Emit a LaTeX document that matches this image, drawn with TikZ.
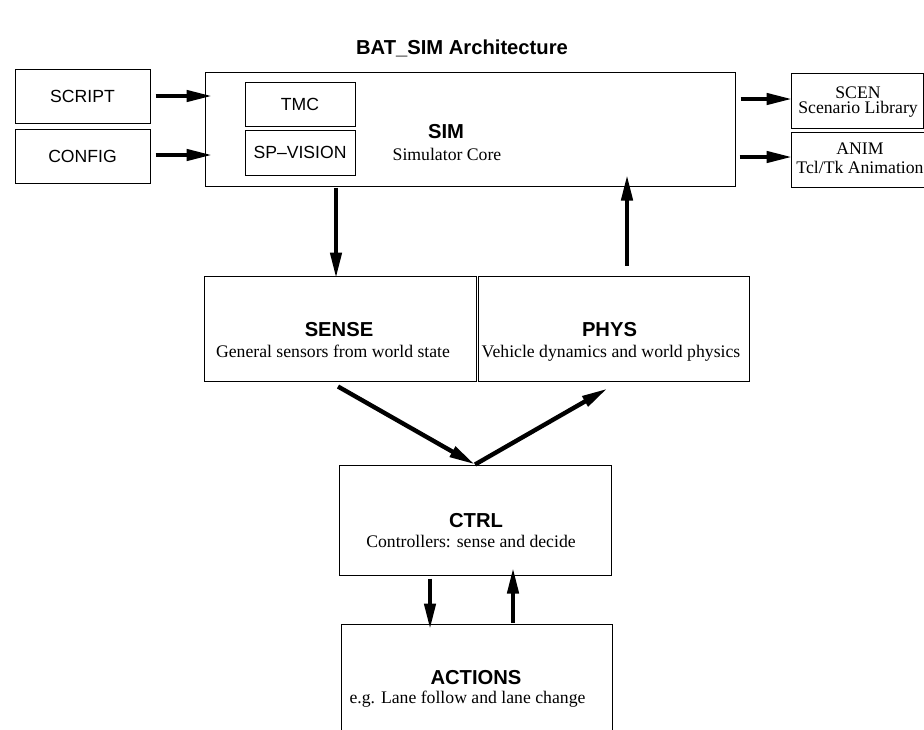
\documentclass[tikz,border=0pt]{standalone}
\usepackage{fontspec}
\setmainfont{Liberation Serif}
\setsansfont{Liberation Sans}
\usetikzlibrary{positioning, calc, arrows.meta}

\begin{document}
\begin{tikzpicture}[x=0.5pt, y=-0.5pt,
	Block/.style={draw, line width=0.5pt, inner sep=0pt},
	Tag/.style={font=\sffamily\fontsize{8.8}{10}\selectfont},
	Head/.style={anchor=base, font=\sffamily\bfseries\fontsize{10.1}{12}\selectfont},
	Sub/.style={anchor=base, font=\rmfamily\fontsize{8.85}{10}\selectfont},
	Flow/.style={line width=2.2pt, -{Triangle[length=13pt, width=5.5pt]}}]

	\useasboundingbox (0,0) rectangle (924,729);
	\clip (0,0) rectangle (924,729);

	% Title
	\node[Head] (Title) at (462,54) {BAT\_SIM Architecture};

	% Inputs and simulator core
	\node[Block, Tag, minimum width=67.5pt, minimum height=27pt] (Script) at (82.5,96) {SCRIPT};
	\node[Block, Tag, minimum width=67.5pt, minimum height=27pt] (Config) at (82.5,156) {CONFIG};
	\node[Block, minimum width=265pt, minimum height=57pt] (Sim) at (470,129) {};
	\node[Block, Tag, minimum width=55pt, minimum height=22pt] (Tmc) at (300,104) {TMC};
	\node[Block, Tag, minimum width=55pt, minimum height=22.5pt] (Vision) at (300,152.5) {SP\textendash VISION};
	\node[Head] (SimHead) at (446,138) {SIM};
	\node[Sub] (SimSub) at (447,160) {Simulator Core};

	% Outputs
	\node[Block, minimum width=66pt, minimum height=27.5pt] (Scen) at (857,100.5) {};
	\node[Sub] (ScenHead) at (858,98) {SCEN};
	\node[Sub] (ScenSub) at (858,113) {Scenario Library};
	\node[Block, minimum width=69.5pt, minimum height=27.5pt] (Anim) at (860.5,159.5) {};
	\node[Sub] (AnimHead) at (860,154) {ANIM};
	\node[Sub] (AnimSub) at (860,173) {Tcl/Tk Animation};

	% Sensing and physics
	\node[Block, minimum width=136pt, minimum height=52.5pt] (Sense) at (340,328.5) {};
	\node[Head] (SenseHead) at (339,336) {SENSE};
	\node[Sub] (SenseSub) at (333,357) {General sensors from world state};
	\node[Block, minimum width=135.5pt, minimum height=52.5pt] (Phys) at (613.5,328.5) {};
	\node[Head] (PhysHead) at (609.5,336) {PHYS};
	\node[Sub] (PhysSub) at (611,357) {Vehicle dynamics and world physics};

	% Control and actions
	\node[Block, minimum width=136pt, minimum height=55pt] (Ctrl) at (475,520) {};
	\node[Head] (CtrlHead) at (476,527) {CTRL};
	\node[Sub] (CtrlSub) at (471,547) {Controllers: sense and decide};
	\node[Block, minimum width=135.5pt, minimum height=58pt] (Actions) at (476.5,682) {};
	\node[Head] (ActionsHead) at (476,684) {ACTIONS};
	\node[Sub] (ActionsSub) at (467.5,703) {e.g. Lane follow and lane change};

	% Arrows
	\draw[Flow] ($(Script.east)+(5,0)$) -- ($(Script.east -| Sim.west)+(8,0)$);
	\draw[Flow] ($(Config.east)+(5,-1)$) -- ($(Config.east -| Sim.west)+(8,-1)$);
	\draw[Flow] ($(Sim.east |- Scen.west)+(5,-1.5)$) -- ($(Scen.west)+(2,-1.5)$);
	\draw[Flow] ($(Sim.east |- Anim.west)+(4,-2.5)$) -- ($(Anim.west)+(2,-2.5)$);
	\draw[Flow] ($(Sim.south -| Sense.north)+(-4,1)$) -- ($(Sense.north)+(-4,3)$);
	\draw[Flow] ($(Phys.north)+(13.5,-10)$) -- ($(Sim.south -| Phys.north)+(13.5,-12)$);
	\draw[Flow] ($(Sense.south)+(-2,5)$) -- (Ctrl.north);
	\draw[Flow] (Ctrl.north) -- ($(Phys.south)+(-6,7)$);
	\draw[Flow] ($(Ctrl.south)+(-45,3)$) -- ($(Actions.north -| Ctrl.south)+(-45,6)$);
	\draw[Flow] ($(Actions.north -| Ctrl.south)+(38,-1)$) -- ($(Ctrl.south)+(38,-8)$);
\end{tikzpicture}
\end{document}
